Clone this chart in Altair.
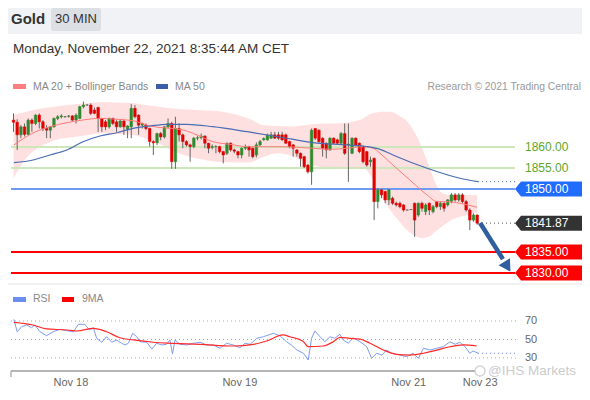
import altair as alt
import pandas as pd

# ---------------- data ----------------
opens = [1866.4,1865.9,1862.9,1864.8,1863.0,1866.4,1865.6,1867.6,1866.0,1864.4,
1864.0,1864.8,1866.8,1867.2,1867.2,1867.3,1867.4,1866.4,1866.8,1869.6,
1870.0,1870.0,1868.8,1869.4,1866.8,1866.0,1864.8,1866.8,1866.0,1864.8,
1866.2,1864.2,1864.8,1869.2,1867.6,1865.2,1865.2,1864.4,1861.3,1861.0,
1863.2,1862.4,1864.8,1865.6,1856.5,1864.4,1862.9,1861.3,1860.5,1860.1,
1862.1,1862.2,1862.6,1860.9,1859.9,1860.1,1860.1,1858.9,1858.5,1860.9,
1859.3,1858.9,1858.1,1859.7,1860.1,1859.7,1858.1,1860.5,1861.7,1861.7,
1862.1,1862.9,1862.9,1862.9,1862.9,1861.3,1860.5,1859.3,1858.5,1857.7,
1855.7,1854.1,1864.4,1864.0,1862.1,1860.9,1859.3,1862.1,1861.7,1860.9,
1863.2,1860.5,1858.5,1862.1,1860.9,1860.1,1858.9,1856.5,1857.3,1847.0,
1849.8,1849.4,1847.4,1847.8,1846.6,1846.6,1846.2,1845.0,1845.1,1846.6,
1843.8,1846.6,1844.6,1846.6,1844.6,1847.0,1845.8,1846.6,1846.2,1847.0,
1848.6,1847.4,1848.6,1847.0,1845.0,1842.6,1843.8]
closes = [1865.9,1862.9,1864.8,1863.0,1866.4,1865.6,1867.6,1866.0,1864.4,1864.0,
1864.8,1866.8,1867.2,1867.4,1867.2,1867.4,1866.4,1867.6,1869.6,1870.0,
1870.0,1868.0,1868.0,1866.8,1864.8,1864.8,1866.8,1865.6,1864.8,1866.2,
1864.8,1865.0,1869.2,1867.2,1865.2,1865.6,1864.4,1861.3,1861.0,1863.2,
1862.4,1864.8,1865.6,1856.5,1864.4,1862.9,1861.3,1860.5,1860.1,1862.1,
1862.2,1862.6,1860.9,1859.7,1860.1,1860.1,1858.9,1858.1,1860.9,1859.3,
1859.0,1858.1,1859.7,1860.1,1859.3,1857.7,1860.5,1861.3,1862.0,1862.8,
1862.9,1862.1,1862.1,1861.7,1860.9,1860.1,1859.7,1858.5,1857.3,1855.3,
1854.1,1864.0,1862.1,1861.3,1859.7,1859.3,1862.1,1860.9,1860.9,1863.2,
1858.5,1860.7,1862.1,1860.5,1858.9,1856.5,1855.7,1856.9,1847.0,1849.8,
1848.6,1847.4,1849.8,1846.6,1846.2,1845.8,1845.0,1845.0,1845.1,1842.6,
1846.6,1845.4,1846.2,1845.0,1845.8,1845.8,1846.6,1845.4,1847.4,1848.6,
1847.4,1848.6,1847.0,1845.0,1842.6,1843.8,1841.87]
highs = [1868.0,1866.6,1865.2,1865.6,1866.8,1866.8,1867.8,1868.0,1866.4,1865.2,
1865.0,1867.0,1867.6,1867.8,1867.4,1867.6,1867.6,1868.0,1869.8,1870.8,
1870.2,1870.4,1869.4,1869.6,1866.8,1866.4,1867.0,1867.0,1866.4,1866.4,
1866.4,1865.2,1870.2,1870.0,1867.8,1865.8,1865.6,1864.6,1861.6,1863.4,
1863.6,1865.0,1866.8,1866.0,1867.2,1865.6,1863.2,1861.6,1860.8,1862.4,
1862.6,1863.2,1862.8,1861.0,1860.6,1860.4,1860.3,1859.1,1861.1,1861.1,
1859.6,1859.1,1859.9,1860.6,1860.3,1859.9,1861.1,1861.7,1862.3,1863.2,
1863.6,1863.6,1863.6,1863.6,1863.2,1861.5,1860.7,1859.5,1858.7,1857.9,
1856.0,1864.4,1864.4,1864.2,1862.3,1861.1,1862.3,1862.3,1862.0,1863.6,
1865.6,1865.6,1862.3,1862.3,1861.1,1860.3,1859.1,1857.7,1857.5,1850.2,
1850.0,1849.6,1850.0,1848.2,1847.0,1847.0,1846.4,1845.1,1845.2,1846.8,
1846.8,1847.0,1846.6,1846.8,1846.2,1847.2,1847.0,1846.8,1847.6,1849.0,
1849.0,1849.0,1849.0,1847.4,1845.4,1844.2,1844.0]
lows = [1863.6,1859.3,1862.1,1862.5,1862.8,1863.6,1865.2,1864.4,1863.8,1862.1,
1862.1,1864.6,1866.4,1866.8,1867.0,1867.0,1866.2,1865.6,1866.6,1869.2,
1869.8,1867.6,1867.8,1863.6,1863.6,1864.0,1864.4,1865.2,1863.6,1864.6,
1862.9,1862.1,1862.1,1866.8,1862.9,1864.4,1864.0,1860.1,1858.1,1860.5,
1861.6,1862.0,1864.4,1854.8,1854.8,1861.3,1859.7,1860.1,1856.5,1859.7,
1861.6,1861.8,1859.7,1858.5,1859.4,1858.5,1858.5,1856.1,1858.1,1858.9,
1858.5,1857.3,1857.3,1859.3,1857.7,1857.3,1857.5,1860.1,1861.5,1861.5,
1861.9,1861.9,1861.7,1861.5,1860.7,1859.7,1857.7,1857.7,1855.3,1855.0,
1853.7,1851.0,1861.7,1860.9,1857.7,1857.3,1859.1,1860.7,1860.7,1860.7,
1858.1,1851.7,1858.3,1860.1,1858.5,1856.1,1855.3,1855.3,1842.6,1845.4,
1847.8,1846.6,1846.2,1846.2,1845.8,1845.4,1844.6,1844.9,1845.0,1838.6,
1843.4,1844.6,1843.8,1843.8,1844.2,1845.4,1845.0,1844.6,1845.8,1846.6,
1847.0,1847.0,1846.6,1844.6,1840.2,1842.2,1841.5]

ma20_idx = [0.1,5.3,9.9,14.5,18.9,23.5,28.1,32.5,37.1,46.1,49.9,54.2,58.8,63.5,72.4,81.4,86.0,90.6,95.0,97.8,99.6,103.1,107.7,112.4,115.1,117.8,121.3,125.9]
ma20_val = [1860.48,1863.33,1864.83,1865.79,1866.43,1866.83,1866.60,1866.26,1865.0,1864.05,1862.86,1861.26,1860.64,1860.07,1860.07,1859.69,1859.45,1859.69,1860.07,1859.69,1858.5,1855.71,1852.14,1848.57,1846.98,1846.98,1846.60,1845.64]
ma50_idx = [0.1,5.3,9.9,14.5,18.9,23.5,28.1,32.5,37.1,41.7,47.1,54.2,63.5,72.4,81.4,90.6,96.1,99.6,103.1,112.4,121.3,126.2]
ma50_val = [1856.26,1856.90,1858.10,1859.29,1861.26,1862.62,1863.40,1864.45,1865.0,1865.40,1865.40,1864.83,1863.64,1862.38,1861.02,1860.48,1860.07,1859.45,1858.10,1854.93,1852.55,1851.74]
band_idx = [0,4,8,12,16,20,24,28,32,36,40,44,48,52,56,60,64,68,72,76,80,84,88,92,95,97,99,101,103,105,107,109,111,113,115,117,119,122,126]
band_upper = [1867.6,1868.5,1869.2,1869.7,1870.1,1870.4,1870.7,1870.6,1870.5,1870.0,
1869.5,1869.1,1868.9,1868.7,1868.5,1867.8,1866.7,1865.2,1865.0,1864.9,
1865.3,1865.6,1865.6,1866.0,1866.8,1867.9,1868.3,1868.4,1868.3,1867.3,
1866.1,1863.5,1859.8,1855.3,1850.8,1848.8,1848.6,1848.6,1848.6]
band_lower = [1852.6,1857.9,1860.4,1861.8,1862.3,1862.8,1863.3,1863.1,1862.9,1862.0,
1860.6,1858.8,1857.6,1856.9,1856.4,1856.3,1856.3,1857.7,1858.5,1857.7,
1856.0,1855.2,1855.1,1855.0,1855.0,1853.2,1849.6,1846.7,1844.2,1842.1,
1840.1,1838.9,1838.3,1838.7,1840.1,1841.4,1842.6,1843.5,1844.3]

rsi_idx = [0.1,1.0,2.2,3.6,4.9,5.8,7.2,9.0,10.8,12.6,14.5,16.3,17.6,19.4,20.6,21.7,22.6,24.0,25.3,26.7,28.0,29.4,30.3,31.2,32.4,33.5,34.4,36.2,37.6,38.9,40.3,41.6,42.5,43.2,43.9,45.2,47.1,48.9,50.7,52.5,54.3,56.1,57.9,59.7,61.5,62.9,64.3,66.1,67.9,70.6,72.4,74.2,75.5,77.0,78.8,80.1,81.0,81.9,83.3,84.6,86.0,87.3,88.7,89.6,91.0,92.3,94.2,96.0,97.3,98.7,100.1,101.4,102.8,105.0,106.8,108.6,110.0,111.4,113.2,115.0,116.8,118.6,120.0,121.3,122.7,124.0,124.9,126.3]
rsi_val = [71.8,58.4,63.8,65.7,62.8,65.7,58.4,54.1,58.4,61.0,59.5,58.4,66.4,66.4,60.3,62.8,51.3,47.0,53.0,47.0,49.5,45.9,44.1,45.9,56.7,53.0,47.6,47.0,39.7,45.9,44.1,44.8,49.5,34.3,49.5,44.8,44.1,45.9,47.0,44.1,44.1,40.5,45.9,44.1,41.1,45.9,44.8,51.3,53.0,56.7,54.1,47.6,44.1,38.6,35.1,27.8,51.3,59.2,53.0,47.6,53.0,51.3,55.6,49.5,45.9,51.9,47.6,42.2,29.7,35.1,33.2,38.6,35.1,33.2,31.4,35.1,29.7,40.5,38.6,40.5,42.2,47.6,44.8,47.0,42.2,35.1,37.6,35.1]
rsi_ma_idx = [0.1,5.3,9.0,14.5,17.2,21.7,25.3,28.9,32.6,38.0,43.4,50.7,59.7,65.2,68.8,73.3,75.1,78.8,80.1,84.2,86.9,88.7,91.4,94.2,96.9,100.5,104.1,107.7,111.4,115.0,118.6,122.2,125.9]
rsi_ma_val = [68.6,65.7,61.4,60.3,59.2,62.1,58.4,51.9,49.5,47.0,45.9,44.8,43.0,44.8,48.4,54.9,53.0,47.6,42.2,43.0,47.6,52.4,51.3,50.5,45.9,38.6,34.0,33.2,35.1,38.6,42.2,44.1,43.0]

level_green = [1860.00, 1855.00]
level_blue = [1850.00]
level_red = [1835.00, 1830.00]
last_price = 1841.87
rsi_levels = [70, 50, 30]
date_labels = ["Nov 18", "Nov 19", "Nov 21", "Nov 23"]
date_label_idx = [15.6, 61.5, 107.4, 126.8]
arrow_idx = [126.8, 133.0]
arrow_price = [1841.9, 1833.3]
arrow_head_idx = [134.2]
arrow_head_price = [1831.5]

# ---------------- geometry ----------------
W, H = 574, 384
FONT = "Liberation Sans"
PRICE_PX, PRICE_REF, PRICE_REF_Y = 4.2, 1860.0, 139.0
price_scale = alt.Scale(domain=[PRICE_REF - (H - PRICE_REF_Y) / PRICE_PX,
                                PRICE_REF + PRICE_REF_Y / PRICE_PX], zero=False, nice=False)
RSI_PX, RSI_REF, RSI_REF_Y = 0.925, 70.0, 313.0
rsi_scale = alt.Scale(domain=[RSI_REF - (H - RSI_REF_Y) / RSI_PX,
                              RSI_REF + RSI_REF_Y / RSI_PX], zero=False, nice=False)
X0, STEP = 5.5, 3.68
x_scale = alt.Scale(domain=[-X0 / STEP, (W - X0) / STEP], zero=False, nice=False, padding=0)

one = pd.DataFrame({"k": [0]})


def box(x0, x1, y0, y1, color, **kw):
    return alt.Chart(one).mark_rect(color=color, **kw).encode(
        x=alt.value(x0), x2=alt.value(x1), y=alt.value(y0), y2=alt.value(y1))


def label(text, x, y, size=11, color="#888888", weight="normal", align="left"):
    return alt.Chart(one).mark_text(text=text, fontSize=size, color=color, fontWeight=weight,
                                    align=align, baseline="middle", font=FONT).encode(
        x=alt.value(x), y=alt.value(y))


def PY(field):
    return alt.Y(field, scale=price_scale, axis=None)


def RY(field):
    return alt.Y(field, scale=rsi_scale, axis=None)


XI = alt.X("i:Q", scale=x_scale, axis=None)

layers = []
# header
layers.append(box(0, W, 0, 26, "#f0f2f5"))
layers.append(box(43, 93, 0, 23, "#dcdfe4", cornerRadius=2))
layers.append(label("Gold", 3, 11, size=15, color="#333333", weight="bold"))
layers.append(label("30 MIN", 68, 11, size=13, color="#333333", align="center"))
layers.append(label("Monday, November 22, 2021 8:35:44 AM CET", 5, 41, size=13.5, color="#333333"))
# legend
layers.append(box(5, 18, 76, 81, "#ff7f7f"))
layers.append(label("MA 20 + Bollinger Bands", 25, 78.5, size=10.5, color="#888888"))
layers.append(box(148, 160, 76, 81, "#3a5fa8"))
layers.append(label("MA 50", 167, 78.5, size=10.5, color="#888888"))
layers.append(label("Research \u00a9 2021 Trading Central", 573, 78.5, size=10.3, color="#9a9a9a", align="right"))

# bollinger band + levels
band = pd.DataFrame({"i": band_idx, "up": band_upper, "lo": band_lower})
layers.append(alt.Chart(band).mark_area(color="#ff0000", opacity=0.12, interpolate="monotone").encode(
    XI, y=PY("up:Q"), y2="lo:Q"))
layers.append(alt.Chart(pd.DataFrame({"p": level_green})).mark_rule(color="#cfe6bb", strokeWidth=2).encode(
    x=alt.value(3), x2=alt.value(507), y=PY("p:Q")))
layers.append(alt.Chart(pd.DataFrame({"p": level_blue})).mark_rule(color="#6f9cf2", strokeWidth=2).encode(
    x=alt.value(3), x2=alt.value(507), y=PY("p:Q")))
layers.append(alt.Chart(pd.DataFrame({"p": level_red})).mark_rule(color="#ff0000", strokeWidth=2).encode(
    x=alt.value(3), x2=alt.value(507), y=PY("p:Q")))

# candles
candles = pd.DataFrame({"i": list(range(len(opens))), "open": opens, "high": highs,
                        "low": lows, "close": closes})
candles["col"] = ["#2e8a2e" if c > o else ("#e00000" if c < o else "#555555")
                  for o, c in zip(opens, closes)]
layers.append(alt.Chart(candles).mark_rule(color="#666666", strokeWidth=1).encode(
    XI, y=PY("low:Q"), y2="high:Q"))
layers.append(alt.Chart(candles).mark_bar(size=2.6, strokeWidth=0.5).encode(
    XI, y=PY("open:Q"), y2="close:Q",
    color=alt.Color("col:N", scale=None), stroke=alt.Stroke("col:N", scale=None)))

# moving averages
layers.append(alt.Chart(pd.DataFrame({"i": ma20_idx, "v": ma20_val})).mark_line(
    color="#ff7a7a", strokeWidth=1, interpolate="monotone").encode(XI, y=PY("v:Q")))
layers.append(alt.Chart(pd.DataFrame({"i": ma50_idx, "v": ma50_val})).mark_line(
    color="#4a6db3", strokeWidth=1.2, interpolate="monotone").encode(XI, y=PY("v:Q")))

# dotted extensions
layers.append(alt.Chart(pd.DataFrame({"p": [ma50_val[-1]]})).mark_rule(
    color="#4a6db3", strokeDash=[1, 3], strokeWidth=1).encode(
    x=alt.value(470), x2=alt.value(507), y=PY("p:Q")))
layers.append(alt.Chart(pd.DataFrame({"p": [last_price]})).mark_rule(
    color="#555555", strokeDash=[1, 3], strokeWidth=1).encode(
    x=alt.value(470), x2=alt.value(507), y=PY("p:Q")))

# green level labels
layers.append(alt.Chart(pd.DataFrame({"p": level_green, "t": [f"{v:.2f}" for v in level_green]})).mark_text(
    align="left", baseline="middle", fontSize=12, color="#62a52a", font=FONT).encode(
    x=alt.value(517), y=PY("p:Q"), text="t:N"))

# badges
bp = level_blue + [last_price] + level_red
badges = pd.DataFrame({"p": bp, "col": ["#1f6cff", "#333333", "#ff0000", "#ff0000"]})
badges["t"] = [f"{v:.2f}" for v in bp]
half = 7.5 / PRICE_PX
badges["top"] = badges["p"] + half
badges["bot"] = badges["p"] - half
layers.append(alt.Chart(badges).mark_rect().encode(
    x=alt.value(513), x2=alt.value(W), y=PY("top:Q"), y2="bot:Q",
    color=alt.Color("col:N", scale=None)))
layers.append(alt.Chart(badges).mark_point(shape="M0.2,0 L1,-1 L1,1 Z", filled=True, size=225,
                                           opacity=1, strokeWidth=0).encode(
    x=alt.value(505.5), y=PY("p:Q"), color=alt.Color("col:N", scale=None)))
layers.append(alt.Chart(badges).mark_text(align="left", baseline="middle", fontSize=12,
                                          color="white", font=FONT).encode(
    x=alt.value(517), y=PY("p:Q"), text="t:N"))

# arrow
layers.append(alt.Chart(pd.DataFrame({"i": arrow_idx, "p": arrow_price})).mark_line(
    color="#2f5f9f", strokeWidth=4.5).encode(XI, y=PY("p:Q")))
layers.append(alt.Chart(pd.DataFrame({"i": arrow_head_idx, "p": arrow_head_price})).mark_point(
    shape="triangle-up", filled=True, size=180, angle=147.8, color="#2f5f9f", opacity=1).encode(
    XI, y=PY("p:Q")))

# separator
layers.append(alt.Chart(one).mark_rule(color="#e6e6e6", strokeWidth=1).encode(
    x=alt.value(0), x2=alt.value(W), y=alt.value(276)))

# RSI panel
layers.append(box(5, 18, 289, 294, "#6b8ff0"))
layers.append(label("RSI", 25, 291, size=10.5, color="#888888"))
layers.append(box(54, 66, 289, 294, "#ff0000"))
layers.append(label("9MA", 74, 291, size=10.5, color="#888888"))
rl = pd.DataFrame({"v": rsi_levels, "t": [str(v) for v in rsi_levels]})
layers.append(alt.Chart(rl).mark_rule(color="#aaaaaa", strokeDash=[1, 3], strokeWidth=1).encode(
    x=alt.value(3), x2=alt.value(509), y=RY("v:Q")))
layers.append(alt.Chart(rl).mark_text(align="left", baseline="middle", fontSize=11,
                                      color="#666666", font=FONT).encode(
    x=alt.value(517), y=RY("v:Q"), text="t:N"))
layers.append(alt.Chart(pd.DataFrame({"i": rsi_idx, "v": rsi_val})).mark_line(
    color="#7e9cf2", strokeWidth=1).encode(XI, y=RY("v:Q")))
layers.append(alt.Chart(pd.DataFrame({"i": rsi_ma_idx, "v": rsi_ma_val})).mark_line(
    color="#ff2a2a", strokeWidth=1.2, interpolate="monotone").encode(XI, y=RY("v:Q")))
layers.append(alt.Chart(pd.DataFrame({"v": [rsi_val[-1]]})).mark_rule(
    color="#6b8ff0", strokeDash=[1, 3], strokeWidth=1).encode(
    x=alt.value(470), x2=alt.value(509), y=RY("v:Q")))

# x axis
layers.append(alt.Chart(one).mark_rule(color="#b5b5b5", strokeWidth=2).encode(
    x=alt.value(3), x2=alt.value(467), y=alt.value(363)))
layers.append(alt.Chart(one).mark_rule(color="#b5b5b5", strokeWidth=1.5).encode(
    x=alt.value(3), y=alt.value(363), y2=alt.value(369)))
layers.append(alt.Chart(pd.DataFrame({"i": date_label_idx, "t": date_labels})).mark_text(
    align="center", baseline="middle", fontSize=11, color="#666666", font=FONT).encode(
    XI, y=alt.value(375), text="t:N"))

# watermark
layers.append(alt.Chart(one).mark_point(shape="circle", size=100, filled=False, color="#c4c4c4",
                                        strokeWidth=1.5).encode(x=alt.value(472), y=alt.value(363)))
layers.append(label("@IHS Markets", 480, 363, size=13.5, color="#cccccc"))

chart = alt.layer(*layers).resolve_scale(y="independent").properties(
    width=W, height=H, autosize=alt.AutoSizeParams(type="none"), padding=0,
    background="white").configure_view(stroke=None)

chart.save("out.html", embed_options={"renderer": "svg", "actions": False})
